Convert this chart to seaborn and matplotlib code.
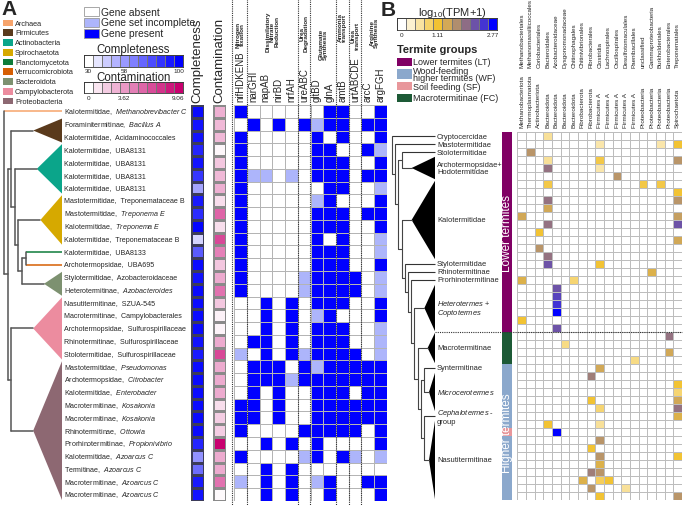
import matplotlib
matplotlib.use('Agg')
import matplotlib.pyplot as plt
import numpy as np
import pandas as pd
import seaborn as sns
from matplotlib.colors import ListedColormap, LinearSegmentedColormap
from matplotlib.patches import Polygon, Rectangle

sns.set_theme(style='white')
plt.rcParams['font.family'] = ['Liberation Sans', 'DejaVu Sans']
plt.rcParams['mathtext.fontset'] = 'custom'
plt.rcParams['mathtext.rm'] = 'Liberation Sans'
plt.rcParams['mathtext.it'] = 'Liberation Sans:italic'
plt.rcParams['mathtext.bf'] = 'Liberation Sans:bold'

# ---------------- Panel A data ----------------
hosts = ['Kalotermitidae', 'Foraminitermitinae', 'Kalotermitidae', 'Kalotermitidae', 'Kalotermitidae',
         'Kalotermitidae', 'Kalotermitidae', 'Mastotermitidae', 'Mastotermitidae', 'Kalotermitidae',
         'Kalotermitidae', 'Kalotermitidae', 'Archotermopsidae', 'Stylotermitidae', 'Heterotermitinae',
         'Nasutitermitinae', 'Macrotermitinae', 'Archotermopsidae', 'Rhinotermitinae', 'Stolotermitidae',
         'Mastotermitidae', 'Archotermopsidae', 'Kalotermitidae', 'Macrotermitinae', 'Macrotermitinae',
         'Rhinotermitinae', 'Prorhinotermitinae', 'Kalotermitidae', 'Termitinae', 'Macrotermitinae',
         'Macrotermitinae']
taxa = ['Methanobrevibacter C', 'Bacillus A', 'Acidaminococcales', 'UBA8131', 'UBA8131', 'UBA8131', 'UBA8131',
        'Treponemataceae B', 'Treponema E', 'Treponema E', 'Treponemataceae B', 'UBA8133', 'UBA695',
        'Azobacteroidaceae', 'Azobacteroides', 'SZUA-545', 'Campylobacterales', 'Sulfurospirillaceae',
        'Sulfurospirillaceae', 'Sulfurospirillaceae', 'Pseudomonas', 'Citrobacter', 'Enterobacter',
        'Kosakonia', 'Kosakonia', 'Ottowia', 'Propionivibrio', 'Azoarcus C', 'Azoarcus C', 'Azoarcus C',
        'Azoarcus C']
taxa_italic = [1, 1, 0, 0, 0, 0, 0, 0, 1, 1, 0, 0, 0, 0, 1, 0, 0, 0, 0, 0, 1, 1, 1, 1, 1, 1, 1, 1, 1, 1, 1]

completeness = [97, 95, 95, 90, 95, 85, 55, 93, 88, 99, 42, 75, 97, 95, 97, 97, 97, 97, 95, 93,
                97, 97, 97, 97, 97, 97, 90, 60, 70, 93, 95]
contamination = [2.8, 2.5, 2.5, 0.3, 2.0, 2.5, 2.8, 1.2, 5.5, 1.2, 6.5, 4.5, 2.0, 3.0, 5.0, 2.0,
                 0.5, 0.4, 3.0, 6.5, 3.0, 3.0, 3.0, 1.2, 1.8, 1.8, 9.0, 3.0, 3.0, 5.0, 0.2]

gene_names = ['nifHDKENB', 'narGHI', 'napAB', 'nirBD', 'nrfAH', 'ureABC', 'gltBD', 'glnA', 'amtB',
              'urtABCDE', 'arcC', 'argFGH']
gene_groups = ['Nitrogen\nfixation', 'Dissimilatory\nNitrate\nReduction', 'Urea\nDegradation',
               'Glutamate\nSynthesis', 'Ammonia\ntransport', 'Urea\ntransport', 'Arginine\nSynthesis']
group_sizes = [1, 4, 1, 2, 1, 1, 2]
# 0 = absent, 1 = gene set incomplete, 2 = present
gene_status = [
    [2, 0, 0, 0, 0, 0, 0, 2, 2, 0, 0, 2],
    [0, 2, 0, 2, 0, 2, 1, 2, 2, 0, 2, 2],
    [2, 0, 0, 0, 0, 0, 2, 0, 2, 0, 0, 2],
    [2, 0, 0, 0, 0, 0, 2, 2, 0, 0, 2, 1],
    [2, 0, 0, 0, 0, 0, 2, 2, 2, 0, 0, 2],
    [2, 1, 1, 0, 1, 0, 2, 2, 2, 0, 2, 2],
    [2, 0, 0, 0, 0, 0, 0, 2, 2, 0, 0, 1],
    [2, 0, 0, 0, 0, 0, 1, 2, 0, 0, 0, 2],
    [2, 0, 0, 0, 0, 0, 2, 2, 2, 0, 2, 2],
    [2, 0, 0, 0, 0, 0, 2, 2, 2, 0, 0, 2],
    [2, 0, 0, 0, 0, 0, 2, 0, 2, 0, 0, 1],
    [2, 0, 0, 0, 0, 0, 2, 2, 2, 0, 0, 1],
    [2, 0, 0, 0, 0, 0, 2, 2, 2, 0, 0, 2],
    [2, 0, 0, 0, 0, 1, 2, 2, 2, 2, 0, 1],
    [2, 0, 0, 0, 0, 1, 2, 2, 2, 2, 0, 1],
    [0, 0, 2, 0, 2, 0, 2, 2, 2, 0, 0, 2],
    [0, 0, 2, 0, 2, 0, 1, 2, 0, 0, 0, 2],
    [0, 0, 2, 0, 2, 0, 2, 2, 2, 0, 0, 1],
    [0, 2, 2, 0, 2, 0, 2, 2, 2, 0, 0, 1],
    [1, 0, 2, 0, 2, 1, 2, 2, 2, 2, 0, 1],
    [0, 2, 2, 2, 0, 2, 1, 2, 2, 2, 2, 2],
    [0, 2, 2, 2, 1, 2, 2, 2, 2, 2, 2, 2],
    [0, 2, 0, 2, 0, 0, 2, 2, 2, 0, 2, 2],
    [2, 2, 0, 2, 0, 0, 2, 2, 2, 2, 2, 2],
    [2, 2, 0, 2, 0, 0, 2, 2, 2, 2, 2, 2],
    [2, 0, 0, 0, 0, 2, 2, 2, 2, 2, 0, 2],
    [0, 0, 2, 0, 2, 0, 2, 0, 0, 0, 0, 2],
    [2, 0, 0, 0, 0, 1, 2, 0, 2, 1, 0, 1],
    [0, 0, 2, 0, 2, 0, 0, 0, 0, 0, 0, 0],
    [1, 0, 2, 0, 2, 0, 1, 2, 0, 0, 2, 2],
    [0, 0, 2, 0, 2, 0, 0, 2, 0, 0, 0, 2],
]

phylum_names = ['Archaea', 'Firmicutes', 'Actinobacteria', 'Spirochaetota', 'Planctomycetota',
                'Verrucomicrobiota', 'Bacteroidota', 'Campylobacterota', 'Proteobacteria']
phylum_colors = ['#F7A46B', '#5A3A1C', '#0BA58A', '#D6A900', '#0E7C3A', '#D65F04', '#7D9170',
                 '#EC8C9F', '#8D6872']
phylum_rows = [(0, 0), (1, 2), (3, 6), (7, 10), (11, 11), (12, 12), (13, 14), (15, 19), (20, 30)]
tree_A = [0, [[1, [2, [3, [[4, 5], 6]]]], [7, 8]]]

# ---------------- Panel B data ----------------
order_labels = ['Methanobacteriales', 'Methanomassiliicoccales', 'Coriobacteriales', 'Bacteroidales',
                'Azobacteroidaceae', 'Dysgonomonadaceae', 'Chitinophagales', 'Chitinivibrionales',
                'Fibrobacterales', 'Clostridia', 'Lachnospirales', 'Oscillospirales', 'Desulfotomaculales',
                'Paenibacillales', 'unclassified', 'Gammaproteobacteria', 'Burkholderiales',
                'Enterobacterales', 'Treponematales']
phylum_labels = ['Methanobacteriota', 'Thermoplasmatota', 'Actinobacteriota', 'Bacteroidota', 'Bacteroidota',
                 'Bacteroidota', 'Bacteroidota', 'Fibrobacterota', 'Fibrobacterota', 'Firmicutes A',
                 'Firmicutes A', 'Firmicutes A', 'Firmicutes A', 'Firmicutes A', 'Proteobacteria',
                 'Proteobacteria', 'Proteobacteria', 'Proteobacteria', 'Spirochaetota']
n_termites = 46
# (termite row, taxon column, log10(TPM+1))
tpm_cells = [
    (0, 3, 0.6), (1, 9, 0.5), (1, 16, 0.5), (1, 18, 1.1), (2, 1, 1.6),
    (3, 3, 0.6), (3, 9, 1.0), (3, 18, 1.6), (4, 3, 1.9), (4, 9, 0.5), (5, 11, 1.6),
    (6, 3, 1.0), (6, 14, 1.0), (6, 16, 1.0), (7, 18, 1.1), (8, 3, 1.9), (8, 18, 1.6),
    (9, 3, 1.4), (10, 0, 1.4), (10, 18, 1.5), (11, 3, 1.9), (11, 18, 2.2), (12, 2, 1.1),
    (13, 18, 1.4), (14, 2, 1.6), (15, 3, 1.9), (16, 3, 2.2), (16, 9, 1.1), (17, 15, 1.3),
    (18, 0, 1.3), (18, 6, 0.8), (19, 4, 2.2), (20, 4, 2.35), (21, 4, 2.5), (22, 4, 2.77),
    (23, 0, 1.1), (24, 4, 2.2), (25, 17, 1.9), (26, 5, 0.7), (27, 17, 1.4), (28, 13, 0.7),
    (29, 9, 1.4), (30, 8, 1.8), (31, 18, 1.1), (32, 18, 0.8), (33, 8, 1.1), (33, 18, 1.4),
    (34, 9, 0.8), (34, 18, 1.9), (35, 18, 1.3), (36, 3, 1.1), (36, 9, 0.6), (37, 4, 2.77),
    (38, 9, 1.6), (39, 8, 1.1), (40, 9, 1.6), (40, 18, 1.1), (41, 9, 1.3), (42, 8, 1.8),
    (42, 9, 1.6), (43, 7, 1.3), (43, 9, 0.9), (43, 10, 1.1), (44, 8, 1.6), (44, 12, 0.6),
    (45, 9, 1.1), (45, 18, 1.6),
]
tpm_max = 2.77
clade_names = ['Cryptocercidae', 'Mastotermitidae', 'Stolotermitidae', 'Archotermopsidae+\nHodotermitidae',
               'Kalotermitidae', 'Stylotermitidae', 'Rhinotermitinae', 'Prorhinotermitinae',
               '$\\mathit{Heterotermes}$ +\n$\\mathit{Coptotermes}$', 'Macrotermitinae', 'Syntermitinae',
               '$\\mathit{Microcerotermes}$', '$\\mathit{Cephalotermes}$ -\ngroup', 'Nasutitermitinae']
clade_rows = [(0, 0), (1, 1), (2, 2), (3, 5), (6, 15), (16, 16), (17, 17), (18, 18), (19, 24),
              (25, 28), (29, 29), (30, 34), (35, 35), (36, 45)]
tree_B = [0, [1, [[2, 3], [4, [5, [6, [7, [8, [9, [[10, 11], [12, 13]]]]]]]]]]]
group_names = ['Lower termites (LT)', 'Wood-feeding\nhigher termites (WF)', 'Soil feeding (SF)',
               'Macrotermitinae (FC)']
group_colors = ['#800064', '#8BA8CC', '#E8979B', '#1D5A36']
# group code per termite row span: 0 LT, 1 WF, 2 SF, 3 FC
group_spans = [(0, 24, 0), (25, 28, 3), (29, 45, 1), (37, 37, 2)]

# ---------------- figure ----------------
W, H = 685, 506
fig = plt.figure(figsize=(W / 100, H / 100), dpi=100)


def px_axes(x0, y0, x1, y1, z=1):
    return fig.add_axes([x0 / W, 1 - y1 / H, (x1 - x0) / W, (y1 - y0) / H], zorder=z)


def clean(ax):
    ax.set_xticks([]); ax.set_yticks([])
    ax.set_xlabel(''); ax.set_ylabel('')


ov = fig.add_axes([0, 0, 1, 1], zorder=5)
ov.set_xlim(0, W); ov.set_ylim(H, 0); ov.axis('off')

# colormaps
comp_cmap = LinearSegmentedColormap.from_list('comp', ['#FFFFFF', '#0000FF'])
cont_cmap = LinearSegmentedColormap.from_list('cont', ['#FFFFFF', '#C8006E'])
gene_cmap = ListedColormap(['#FFFFFF', '#ADB5FB', '#0000FF'])
tpm_cmap = LinearSegmentedColormap.from_list(
    'tpm', [(0, '#FFFFFF'), (0.2, '#F9E3A2'), (0.4, '#F2C232'), (0.52, '#CDA55C'),
            (0.6, '#B08E6E'), (0.7, '#8F6E84'), (0.8, '#6C52A8'), (0.9, '#4535D2'), (1, '#0000FF')])

# ---------------- Panel A layout ----------------
A_TOP, A_ROW = 106.0, 12.77
nA = len(hosts)
A_BOT = A_TOP + A_ROW * nA
G_X0, G_W = 234.0, 12.75
ncol = len(gene_names)

ax_c = px_axes(191, A_TOP, 204, A_BOT)
sns.heatmap(np.array(completeness, float).reshape(-1, 1), ax=ax_c, cmap=comp_cmap, vmin=30, vmax=100,
            cbar=False, linewidths=0.8, linecolor='#3C3C5A', xticklabels=False, yticklabels=False)
clean(ax_c)
ax_k = px_axes(213, A_TOP, 226, A_BOT)
sns.heatmap(np.array(contamination, float).reshape(-1, 1), ax=ax_k, cmap=cont_cmap, vmin=0, vmax=9.06,
            cbar=False, linewidths=0.8, linecolor='#8A8A8A', xticklabels=False, yticklabels=False)
clean(ax_k)
ax_g = px_axes(G_X0, A_TOP, G_X0 + G_W * ncol, A_BOT)
sns.heatmap(np.array(gene_status), ax=ax_g, cmap=gene_cmap, vmin=-0.5, vmax=2.5, cbar=False,
            linewidths=0.6, linecolor='#B4B4B4', xticklabels=False, yticklabels=False)
clean(ax_g)
for ax in (ax_c, ax_k, ax_g):
    for s in ax.spines.values():
        s.set_visible(False)

ov.text(197.5, 103, 'Completeness', rotation=90, ha='center', va='bottom', fontsize=9.5)
ov.text(219.5, 103, 'Contamination', rotation=90, ha='center', va='bottom', fontsize=9.5)
for j, g in enumerate(gene_names):
    ov.text(G_X0 + G_W * (j + 0.5), 102, g, rotation=90, ha='center', va='bottom', fontsize=7)

# group labels and dotted separators
group_label_bottom = [48, 52, 52, 60, 42, 50, 48]
edges = np.concatenate([[0], np.cumsum(group_sizes)])
sep_x = [G_X0 - 2] + [G_X0 + G_W * e for e in edges[1:-1]]
for x in sep_x:
    ov.plot([x, x], [0, A_BOT + 4], ls=(0, (1, 1)), color='#333333', lw=0.8)
for gi, lab in enumerate(gene_groups):
    xc = G_X0 + G_W * (edges[gi] + edges[gi + 1]) / 2
    ov.text(xc, group_label_bottom[gi], lab, rotation=90, ha='center', va='bottom', fontsize=4.6,
            fontweight='bold', linespacing=0.85)

# genome labels
for i in range(nA):
    t = taxa[i]
    if taxa_italic[i]:
        t = '$\\mathit{' + t.replace(' ', '\\ ') + '}$'
    ov.text(64, A_TOP + A_ROW * (i + 0.5), hosts[i] + ',  ' + t, ha='left', va='center', fontsize=5.1)


def draw_tree(node, depth, parent_x, cfg):
    x0, dx, tip, top, rowh, spans, fills, line_cols, br, lw, apex_off = cfg
    if isinstance(node, int):
        r0, r1 = spans[node]
        yc = top + rowh * (r0 + r1 + 1) / 2
        if r0 == r1:
            ov.plot([parent_x, tip], [yc, yc], color=line_cols[node], lw=lw, solid_capstyle='butt')
        else:
            apex = min(parent_x + apex_off, tip - 6)
            ov.plot([parent_x, apex], [yc, yc], color=br, lw=lw)
            ov.add_patch(Polygon([[apex, yc], [tip, top + rowh * r0 + 0.8],
                                  [tip, top + rowh * (r1 + 1) - 0.8]], closed=True,
                                 facecolor=fills[node], edgecolor='none'))
        return yc
    x = x0 + depth * dx
    ys = [draw_tree(ch, depth + 1, x, cfg) for ch in node]
    ov.plot([x, x], [min(ys), max(ys)], color=br, lw=lw)
    y = (min(ys) + max(ys)) / 2
    if parent_x is not None:
        ov.plot([parent_x, x], [y, y], color=br, lw=lw)
    return y


draw_tree(tree_A, 0, None, (4, 3.6, 62, A_TOP, A_ROW, phylum_rows, phylum_colors, phylum_colors,
                            '#555555', 1.1, 22))

# panel A legends
ov.text(1, 0, 'A', fontsize=15, fontweight='bold', ha='left', va='top')
for i, (n, c) in enumerate(zip(phylum_names, phylum_colors)):
    y = 24 + 9.75 * i
    ov.add_patch(Rectangle((3, y - 3.3), 10, 6.6, facecolor=c, edgecolor='none'))
    ov.text(15, y, n, fontsize=5.3, va='center', ha='left')
for i, (n, c) in enumerate(zip(['Gene absent', 'Gene set incomplete', 'Gene present'], gene_cmap.colors)):
    y = 12.7 + 10.7 * i
    ov.add_patch(Rectangle((84, y - 4.5), 15, 9, facecolor=c, edgecolor='#999999', lw=0.6))
    ov.text(101, y, n, fontsize=7.4, va='center', ha='left')


def legend_bar(x0, y0, x1, y1, vmin, vmax, cmap, ticks_fmt, title, title_y, tick_y, title_fs):
    ax = px_axes(x0, y0, x1, y1, z=2)
    vals = np.linspace(vmin, vmax, 11)
    sns.heatmap(vals.reshape(1, -1), ax=ax, cmap=cmap, vmin=vmin, vmax=vmax, cbar=False,
                linewidths=0.6, linecolor='#777777', xticklabels=False, yticklabels=False)
    clean(ax)
    for s in ax.spines.values():
        s.set_visible(True); s.set_color('#333333'); s.set_linewidth(0.6)
    cw = (x1 - x0) / 11
    for k in (0, 4, 10):
        ov.text(x0 + cw * (k + 0.5), tick_y, ticks_fmt(vals[k]), fontsize=4.6, ha='center', va='center')
    if title:
        ov.text((x0 + x1) / 2, title_y, title, fontsize=title_fs, ha='center', va='center')


legend_bar(84, 56, 183, 68, 30, 100, comp_cmap, lambda v: f'{v:g}', 'Completeness', 50, 71, 8.3)
legend_bar(84, 83, 183, 94, 0, 9.06, cont_cmap, lambda v: f'{v:.2f}'.rstrip('0').rstrip('.') if v > 0 else '0',
           'Contamination', 78, 98.5, 8.3)

# ---------------- Panel B ----------------
B_TOP, B_ROW = 133.0, 8.0
B_X0, B_CW = 517.3, 8.67
nB = len(order_labels)
B_BOT = B_TOP + B_ROW * n_termites
tpm = np.zeros((n_termites, nB))
for r, c, v in tpm_cells:
    tpm[r, c] = v
ax_b = px_axes(B_X0, B_TOP, B_X0 + B_CW * nB, B_BOT)
sns.heatmap(pd.DataFrame(tpm, columns=order_labels), ax=ax_b, cmap=tpm_cmap, vmin=0, vmax=tpm_max,
            cbar=False, linewidths=0.5, linecolor='#BDBDBD', xticklabels=False, yticklabels=False)
clean(ax_b)

grp = np.zeros(n_termites)
for r0, r1, g in group_spans:
    grp[r0:r1 + 1] = g
ax_grp = px_axes(502, B_TOP, 512, B_BOT)
sns.heatmap(grp.reshape(-1, 1), ax=ax_grp, cmap=ListedColormap(group_colors), vmin=-0.5, vmax=3.5,
            cbar=False, xticklabels=False, yticklabels=False)
clean(ax_grp)
ov.text(507, B_TOP + B_ROW * 12.5, 'Lower termites', rotation=90, color='white', fontsize=8.5,
        ha='center', va='center')
ov.text(507, B_TOP + B_ROW * 37.5, 'Higher termites', rotation=90, color='white', fontsize=8.5,
        ha='center', va='center')
ov.plot([435, B_X0 + B_CW * nB], [B_TOP + B_ROW * 25] * 2, ls=(0, (1, 1)), color='#333333', lw=0.8)

for j in range(nB):
    xc = B_X0 + B_CW * (j + 0.5)
    ov.text(xc, 68, order_labels[j], rotation=90, ha='center', va='bottom', fontsize=4.5)
    ov.text(xc, 128, phylum_labels[j], rotation=90, ha='center', va='bottom', fontsize=4.6)

black = ['#000000'] * len(clade_names)
draw_tree(tree_B, 0, None, (392, 3.2, 435, B_TOP, B_ROW, clade_rows, black, ['#333333'] * len(clade_names),
                            '#444444', 0.8, 10))
for k, (n, (r0, r1)) in enumerate(zip(clade_names, clade_rows)):
    ov.text(437, B_TOP + B_ROW * (r0 + r1 + 1) / 2, n, fontsize=5.4, ha='left', va='center',
            linespacing=0.9)

ov.text(381, 1, 'B', fontsize=15, fontweight='bold', ha='left', va='top')
ov.text(418, 13, 'log$_{10}$(TPM+1)', fontsize=8, ha='left', va='center')
legend_bar(397, 19, 497, 31, 0, tpm_max, tpm_cmap, lambda v: f'{v:.2f}'.rstrip('0').rstrip('.') if v > 0 else '0',
           None, 0, 35, 8)
ov.text(397, 50, 'Termite groups', fontsize=8, fontweight='bold', ha='left', va='center')
for i, (n, c, y, h) in enumerate(zip(group_names, [group_colors[0], group_colors[1], group_colors[2], group_colors[3]],
                                     [62.5, 75, 87, 98.5], [8, 10, 8, 8])):
    ov.add_patch(Rectangle((397, y - h / 2), 15, h, facecolor=c, edgecolor='none'))
    ov.text(413, y, n, fontsize=6.5, ha='left', va='center', linespacing=0.72)

fig.savefig('out.png', dpi=100)
